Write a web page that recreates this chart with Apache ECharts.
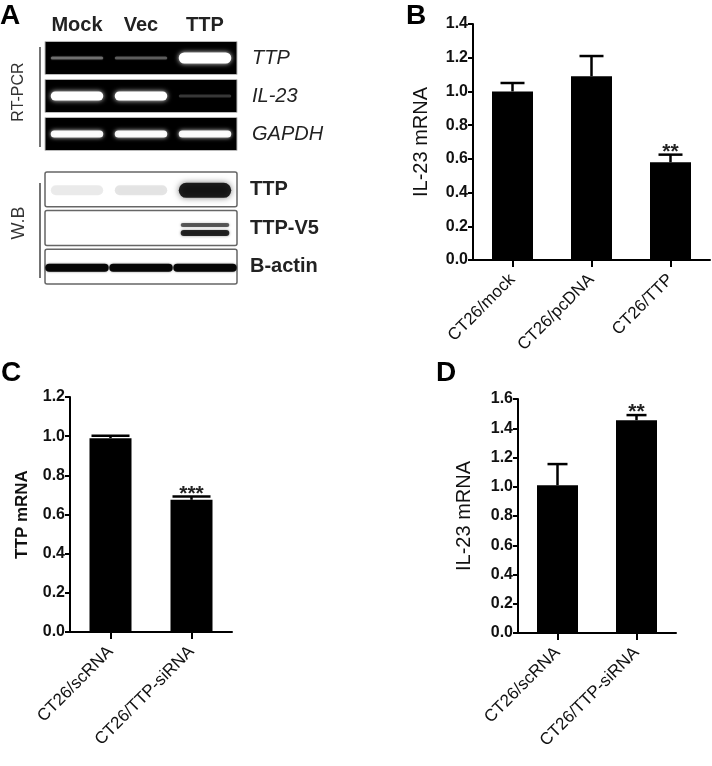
<!DOCTYPE html>
<html><head><meta charset="utf-8">
<script src="https://cdn.jsdelivr.net/npm/echarts@6/dist/echarts.min.js"></script>
<style>html,body{margin:0;padding:0;background:#fff}#c{width:712px;height:766px}</style>
</head><body><div id="c"></div>
<script>
// ---- Panel A (gel / blot) ----
const lanes = ['Mock', 'Vec', 'TTP'];
const pcrRows = ['TTP', 'IL-23', 'GAPDH'];
const pcrIntensity = [[0.28, 0.22, 1], [1, 1, 0.12], [0.95, 0.95, 0.95]];
const wbRows = ['TTP', 'TTP-V5', 'B-actin'];
const wbIntensity = [[0.08, 0.1, 0.9], [0, 0, 0.85], [0.95, 0.95, 0.95]];

// ---- Panel B ----
const catsB = ['CT26/mock', 'CT26/pcDNA', 'CT26/TTP'];
const meanB = [1.0, 1.09, 0.58];
const semB = [0.05, 0.12, 0.045];
const sigB = ['', '', '**'];
const ticksB = [0, 0.2, 0.4, 0.6, 0.8, 1.0, 1.2, 1.4];

// ---- Panel C ----
const catsC = ['CT26/scRNA', 'CT26/TTP-siRNA'];
const meanC = [0.99, 0.675];
const semC = [0.012, 0.017];
const sigC = ['', '***'];
const ticksC = [0, 0.2, 0.4, 0.6, 0.8, 1.0, 1.2];

// ---- Panel D ----
const catsD = ['CT26/scRNA', 'CT26/TTP-siRNA'];
const meanD = [1.01, 1.455];
const semD = [0.145, 0.035];
const sigD = ['', '**'];
const ticksD = [0, 0.2, 0.4, 0.6, 0.8, 1.0, 1.2, 1.4, 1.6];

const FONT = 'Liberation Sans, Arial, Helvetica, sans-serif';
const chart = echarts.init(document.getElementById('c'));

function cells(mat) {
  const out = [];
  mat.forEach((row, r) => row.forEach((a, l) => out.push([l, r, a])));
  return out;
}

function boxRender(fill, stroke, lw, frac, rad) {
  return function (params, api) {
    const cs = params.coordSys;
    const c = api.coord([0, api.value(1)]);
    const h = api.size([1, 1])[1] * frac;
    return { type: 'rect', shape: { x: cs.x, y: c[1] - h / 2, width: cs.width, height: h, r: rad },
      style: { fill: fill, stroke: stroke, lineWidth: lw } };
  };
}

function pcrBand(params, api) {
  const lane = api.value(0), row = api.value(1), a = api.value(2);
  const c = api.coord([lane, row]);
  const s = api.size([1, 1]);
  const w = s[0] * 0.82;
  const h = a > 0.5 ? [11, 9, 7][row] : 3;
  return { type: 'rect', shape: { x: c[0] - w / 2, y: c[1] - h / 2, width: w, height: h, r: h / 2 },
    style: { fill: 'rgba(255,255,255,' + a + ')', shadowBlur: 5 * a, shadowColor: 'rgba(255,255,255,0.9)' } };
}

function wbBand(params, api) {
  const lane = api.value(0), row = api.value(1), a = api.value(2);
  if (a <= 0) return null;
  const c = api.coord([lane, row]);
  const s = api.size([1, 1]);
  if (row === 0) {
    const w = s[0] * 0.82, h = a > 0.5 ? 15 : 10;
    return { type: 'rect', shape: { x: c[0] - w / 2, y: c[1] - h / 2 + 1, width: w, height: h, r: h / 2 },
      style: { fill: 'rgba(0,0,0,' + (a > 0.5 ? 0.85 : a) + ')', shadowBlur: 6, shadowColor: 'rgba(0,0,0,' + (a > 0.5 ? 0.6 : 0.1) + ')' } };
  }
  if (row === 1) {
    const w = s[0] * 0.76;
    return { type: 'group', children: [
      { type: 'rect', shape: { x: c[0] - w / 2, y: c[1] - 5, width: w, height: 4, r: 2 },
        style: { fill: 'rgba(0,0,0,' + (a * 0.7) + ')', shadowBlur: 3, shadowColor: 'rgba(0,0,0,0.4)' } },
      { type: 'rect', shape: { x: c[0] - w / 2, y: c[1] + 2, width: w, height: 6, r: 3 },
        style: { fill: 'rgba(0,0,0,' + (a * 0.95) + ')', shadowBlur: 3, shadowColor: 'rgba(0,0,0,0.5)' } }
    ] };
  }
  const w = s[0] * 0.99;
  return { type: 'rect', shape: { x: c[0] - w / 2, y: c[1] - 3, width: w, height: 8, r: 4 },
    style: { fill: 'rgba(0,0,0,' + a + ')', shadowBlur: 2, shadowColor: 'rgba(0,0,0,0.6)' } };
}

function errRender(sigs, capW) {
  return function (params, api) {
    const i = api.value(0), m = api.value(1), e = api.value(2);
    const base = api.coord([i, m]);
    const top = api.coord([i, m + e]);
    const children = [
      { type: 'line', shape: { x1: top[0], y1: base[1], x2: top[0], y2: top[1] }, style: { stroke: '#000', lineWidth: 2.5 } },
      { type: 'line', shape: { x1: top[0] - capW / 2, y1: top[1], x2: top[0] + capW / 2, y2: top[1] }, style: { stroke: '#000', lineWidth: 2.5 } }
    ];
    const sg = sigs[params.dataIndex];
    if (sg) children.push({ type: 'text', style: { text: sg, x: top[0], y: top[1] + 8, align: 'center', verticalAlign: 'bottom',
      fontSize: 21, fontWeight: 'bold', fontFamily: FONT, fill: '#222' } });
    return { type: 'group', children: children };
  };
}

function valAxis(idx, ticks, name, nameGap, nameSize, nameBold) {
  return {
    type: 'value', gridIndex: idx, min: ticks[0], max: ticks[ticks.length - 1], interval: ticks[1] - ticks[0],
    name: name, nameLocation: 'middle', nameGap: nameGap,
    nameTextStyle: { fontSize: nameSize, fontWeight: nameBold ? 'bold' : 'normal', fontFamily: FONT, color: '#111' },
    splitLine: { show: false },
    axisLine: { show: true, lineStyle: { color: '#000', width: 2 } },
    axisTick: { show: true, length: 5, lineStyle: { color: '#000', width: 2 } },
    axisLabel: { fontSize: 16, fontWeight: 'bold', fontFamily: FONT, color: '#111', margin: 5,
      formatter: v => v.toFixed(1) }
  };
}
function catAxis(idx, cats) {
  return {
    type: 'category', gridIndex: idx, data: cats,
    axisLine: { show: true, lineStyle: { color: '#000', width: 2 } },
    axisTick: { show: true, alignWithLabel: true, length: 7, lineStyle: { color: '#000', width: 2 } },
    axisLabel: { rotate: 45, fontSize: 17, fontFamily: FONT, color: '#111', margin: 17, interval: 0 }
  };
}

const option = {
  animation: false,
  backgroundColor: '#fff',
  grid: [
    { left: 45, top: 39, width: 192, height: 114 },
    { left: 45, top: 170, width: 192, height: 116 },
    { left: 473, top: 24, width: 237, height: 236 },
    { left: 70, top: 397, width: 162, height: 235 },
    { left: 518, top: 399, width: 158, height: 234 }
  ],
  xAxis: [
    { type: 'category', gridIndex: 0, data: lanes, position: 'top', axisLine: { show: false }, axisTick: { show: false },
      axisLabel: { fontSize: 20, fontWeight: 'bold', fontFamily: FONT, color: '#222', margin: 4, interval: 0 } },
    { type: 'category', gridIndex: 1, data: lanes, show: false },
    catAxis(2, catsB),
    catAxis(3, catsC),
    catAxis(4, catsD)
  ],
  yAxis: [
    { type: 'category', gridIndex: 0, data: pcrRows, inverse: true, position: 'right', axisLine: { show: false }, axisTick: { show: false },
      axisLabel: { fontSize: 20, fontStyle: 'italic', fontFamily: FONT, color: '#222', margin: 15, align: 'left', interval: 0 } },
    { type: 'category', gridIndex: 1, data: wbRows, inverse: true, position: 'right', axisLine: { show: false }, axisTick: { show: false },
      axisLabel: { fontSize: 20, fontWeight: 'bold', fontFamily: FONT, color: '#222', margin: 13, align: 'left', interval: 0 } },
    valAxis(2, ticksB, 'IL-23 mRNA', 42, 20, false),
    valAxis(3, ticksC, 'TTP mRNA', 39, 17, true),
    valAxis(4, ticksD, 'IL-23 mRNA', 44, 20, false)
  ],
  series: [
    { type: 'custom', xAxisIndex: 0, yAxisIndex: 0, z: 1, renderItem: boxRender('#000', '#bbb', 1, 0.87, 0),
      data: pcrRows.map((r, i) => [0, i]) },
    { type: 'custom', xAxisIndex: 0, yAxisIndex: 0, z: 2, renderItem: pcrBand, data: cells(pcrIntensity) },
    { type: 'custom', xAxisIndex: 1, yAxisIndex: 1, z: 1, renderItem: boxRender('#fff', '#666', 1.5, 0.9, 2),
      data: wbRows.map((r, i) => [0, i]) },
    { type: 'custom', xAxisIndex: 1, yAxisIndex: 1, z: 2, renderItem: wbBand, data: cells(wbIntensity) },

    { type: 'bar', xAxisIndex: 2, yAxisIndex: 2, data: meanB, barWidth: 41, itemStyle: { color: '#000' } },
    { type: 'custom', xAxisIndex: 2, yAxisIndex: 2, z: 3, renderItem: errRender(sigB, 24),
      data: meanB.map((m, i) => [i, m, semB[i]]), encode: { x: 0, y: 1 } },
    { type: 'bar', xAxisIndex: 3, yAxisIndex: 3, data: meanC, barWidth: 42, itemStyle: { color: '#000' } },
    { type: 'custom', xAxisIndex: 3, yAxisIndex: 3, z: 3, renderItem: errRender(sigC, 38),
      data: meanC.map((m, i) => [i, m, semC[i]]), encode: { x: 0, y: 1 } },
    { type: 'bar', xAxisIndex: 4, yAxisIndex: 4, data: meanD, barWidth: 41, itemStyle: { color: '#000' } },
    { type: 'custom', xAxisIndex: 4, yAxisIndex: 4, z: 3, renderItem: errRender(sigD, 20),
      data: meanD.map((m, i) => [i, m, semD[i]]), encode: { x: 0, y: 1 } }
  ],
  graphic: [
    { type: 'text', left: 0, top: 2, style: { text: 'A', fontSize: 28, fontWeight: 'bold', fontFamily: FONT, fill: '#000' } },
    { type: 'text', left: 406, top: 2, style: { text: 'B', fontSize: 28, fontWeight: 'bold', fontFamily: FONT, fill: '#000' } },
    { type: 'text', left: 1, top: 359, style: { text: 'C', fontSize: 28, fontWeight: 'bold', fontFamily: FONT, fill: '#000' } },
    { type: 'text', left: 436, top: 359, style: { text: 'D', fontSize: 28, fontWeight: 'bold', fontFamily: FONT, fill: '#000' } },
    { type: 'line', shape: { x1: 40, y1: 47, x2: 40, y2: 147 }, style: { stroke: '#444', lineWidth: 1.5 } },
    { type: 'line', shape: { x1: 40, y1: 183, x2: 40, y2: 278 }, style: { stroke: '#444', lineWidth: 1.5 } },
    { type: 'text', x: 19, y: 92, rotation: Math.PI / 2,
      style: { text: 'RT-PCR', align: 'center', verticalAlign: 'middle', fontSize: 16, fontFamily: FONT, fill: '#333' } },
    { type: 'text', x: 19, y: 223, rotation: Math.PI / 2,
      style: { text: 'W.B', align: 'center', verticalAlign: 'middle', fontSize: 18, fontFamily: FONT, fill: '#333' } }
  ]
};
chart.setOption(option);
</script>
</body></html>
